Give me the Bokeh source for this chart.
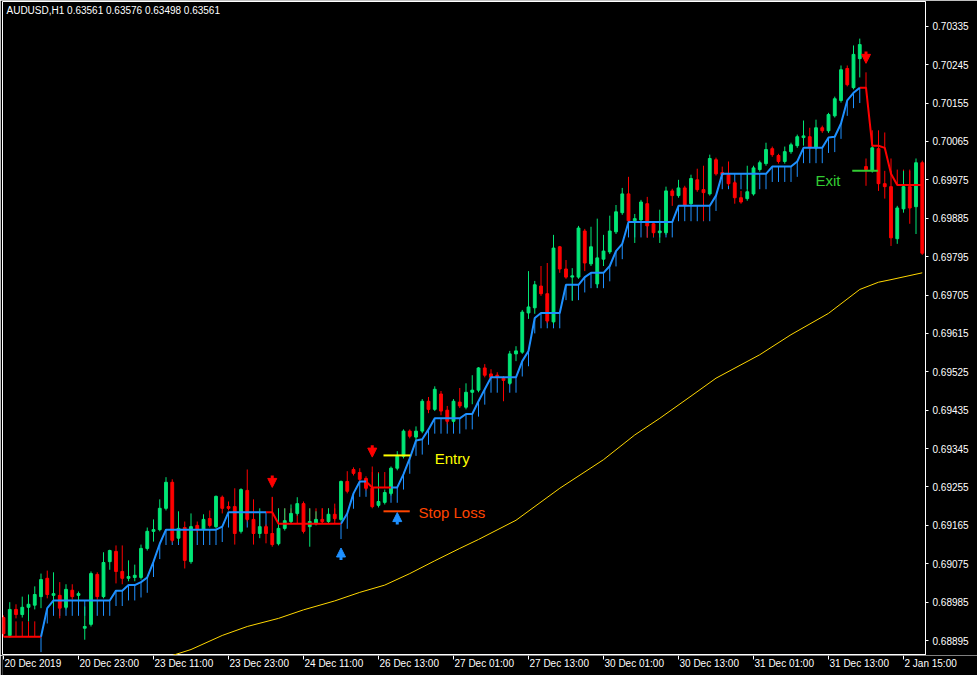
import numpy as np
from bokeh.plotting import figure
from bokeh.layouts import column
from bokeh.models import (ColumnDataSource, FixedTicker, Label, Arrow, NormalHead,
                          Range1d, CustomJSTickFormatter)
from bokeh.core.properties import value
from bokeh.embed import file_html
from bokeh.resources import INLINE

# ---------------- data ----------------
title_text = "AUDUSD,H1  0.63561 0.63576 0.63498 0.63561"

opens = [0.68949, 0.68907, 0.68968, 0.68956, 0.68973, 0.68978, 0.68998, 0.69041, 0.69001, 0.69001,
         0.68973, 0.69013, 0.69001, 0.68924, 0.68933, 0.69050, 0.68998, 0.69080, 0.69104, 0.69057,
         0.69041, 0.69043, 0.69043, 0.69111, 0.69151, 0.69155, 0.69205, 0.69266, 0.69135, 0.69160,
         0.69080, 0.69165, 0.69155, 0.69181, 0.69162, 0.69231, 0.69209, 0.69209, 0.69151, 0.69247,
         0.69179, 0.69146, 0.69162, 0.69146, 0.69122, 0.69158, 0.69174, 0.69193, 0.69216, 0.69162,
         0.69169, 0.69179, 0.69174, 0.69191, 0.69179, 0.69268, 0.69296, 0.69289, 0.69275, 0.69252,
         0.69212, 0.69219, 0.69240, 0.69299, 0.69327, 0.69386, 0.69372, 0.69386, 0.69456, 0.69437,
         0.69473, 0.69435, 0.69409, 0.69454, 0.69442, 0.69477, 0.69482, 0.69534, 0.69520, 0.69517,
         0.69510, 0.69498, 0.69567, 0.69571, 0.69663, 0.69675, 0.69726, 0.69708, 0.69642, 0.69818,
         0.69766, 0.69747, 0.69747, 0.69855, 0.69778, 0.69731, 0.69789, 0.69806, 0.69853, 0.69898,
         0.69942, 0.69879, 0.69881, 0.69919, 0.69872, 0.69851, 0.69851, 0.69949, 0.69938, 0.69956,
         0.69919, 0.69975, 0.69952, 0.69942, 0.70022, 0.69992, 0.69987, 0.69968, 0.69933, 0.69931,
         0.69942, 0.69999, 0.70013, 0.70048, 0.70032, 0.70018, 0.70041, 0.70055, 0.70074, 0.70076,
         0.70050, 0.70097, 0.70090, 0.70125, 0.70161, 0.70236, 0.70191, 0.70259, 0.70006, 0.69996,
         0.70048, 0.69966, 0.69959, 0.69837, 0.69907, 0.69959, 0.69912, 0.70015]
highs = [0.68954, 0.68985, 0.68980, 0.68998, 0.69003, 0.69022, 0.69052, 0.69059, 0.69055, 0.69032,
         0.69027, 0.69027, 0.69010, 0.68975, 0.69057, 0.69055, 0.69102, 0.69108, 0.69118, 0.69118,
         0.69083, 0.69073, 0.69120, 0.69160, 0.69179, 0.69226, 0.69278, 0.69273, 0.69198, 0.69174,
         0.69193, 0.69174, 0.69191, 0.69200, 0.69235, 0.69235, 0.69221, 0.69252, 0.69252, 0.69296,
         0.69226, 0.69205, 0.69167, 0.69231, 0.69205, 0.69205, 0.69214, 0.69231, 0.69221, 0.69205,
         0.69198, 0.69205, 0.69205, 0.69216, 0.69270, 0.69292, 0.69301, 0.69299, 0.69280, 0.69303,
         0.69287, 0.69249, 0.69303, 0.69339, 0.69390, 0.69390, 0.69397, 0.69461, 0.69466, 0.69491,
         0.69480, 0.69445, 0.69461, 0.69487, 0.69498, 0.69517, 0.69536, 0.69543, 0.69531, 0.69524,
         0.69515, 0.69574, 0.69585, 0.69670, 0.69761, 0.69738, 0.69773, 0.69780, 0.69846, 0.69820,
         0.69787, 0.69768, 0.69867, 0.69860, 0.69865, 0.69884, 0.69846, 0.69891, 0.69916, 0.69956,
         0.69982, 0.69895, 0.69928, 0.69935, 0.69876, 0.69905, 0.69959, 0.69954, 0.69975, 0.69961,
         0.69987, 0.70001, 0.70008, 0.70034, 0.70027, 0.70006, 0.70018, 0.69973, 0.69949, 0.70008,
         0.70008, 0.70020, 0.70062, 0.70053, 0.70036, 0.70053, 0.70062, 0.70081, 0.70114, 0.70097,
         0.70116, 0.70102, 0.70132, 0.70170, 0.70243, 0.70243, 0.70290, 0.70306, 0.70025, 0.70055,
         0.70083, 0.69996, 0.69996, 0.69914, 0.69996, 0.69996, 0.70025, 0.70020]
lows = [0.68907, 0.68902, 0.68947, 0.68949, 0.68940, 0.68968, 0.68971, 0.68994, 0.68975, 0.68947,
        0.68968, 0.68991, 0.68987, 0.68897, 0.68928, 0.68991, 0.68994, 0.69061, 0.69029, 0.69027,
        0.69034, 0.69034, 0.69038, 0.69106, 0.69127, 0.69151, 0.69200, 0.69125, 0.69127, 0.69064,
        0.69075, 0.69149, 0.69151, 0.69160, 0.69158, 0.69193, 0.69200, 0.69120, 0.69146, 0.69174,
        0.69120, 0.69135, 0.69123, 0.69115, 0.69118, 0.69153, 0.69169, 0.69188, 0.69146, 0.69115,
        0.69165, 0.69169, 0.69169, 0.69176, 0.69174, 0.69240, 0.69282, 0.69268, 0.69247, 0.69205,
        0.69207, 0.69214, 0.69235, 0.69294, 0.69322, 0.69369, 0.69362, 0.69381, 0.69428, 0.69433,
        0.69423, 0.69402, 0.69404, 0.69440, 0.69437, 0.69449, 0.69477, 0.69512, 0.69508, 0.69508,
        0.69456, 0.69494, 0.69550, 0.69567, 0.69649, 0.69661, 0.69703, 0.69639, 0.69637, 0.69757,
        0.69743, 0.69691, 0.69743, 0.69761, 0.69773, 0.69722, 0.69773, 0.69801, 0.69848, 0.69893,
        0.69874, 0.69827, 0.69876, 0.69839, 0.69841, 0.69827, 0.69846, 0.69914, 0.69933, 0.69912,
        0.69914, 0.69947, 0.69879, 0.69938, 0.69985, 0.69982, 0.69961, 0.69919, 0.69919, 0.69926,
        0.69938, 0.69994, 0.70008, 0.70029, 0.70013, 0.70013, 0.70036, 0.70050, 0.70055, 0.70046,
        0.70046, 0.70085, 0.70085, 0.70121, 0.70156, 0.70194, 0.70187, 0.70215, 0.69961, 0.69992,
        0.69949, 0.69931, 0.69820, 0.69825, 0.69898, 0.69872, 0.69848, 0.69799]
closes = [0.68911, 0.68968, 0.68956, 0.68973, 0.68980, 0.69003, 0.69038, 0.69003, 0.69005, 0.68971,
          0.69015, 0.68998, 0.69005, 0.68928, 0.69052, 0.68998, 0.69078, 0.69106, 0.69057, 0.69041,
          0.69045, 0.69048, 0.69111, 0.69151, 0.69155, 0.69205, 0.69266, 0.69130, 0.69158, 0.69083,
          0.69162, 0.69155, 0.69179, 0.69165, 0.69233, 0.69205, 0.69205, 0.69146, 0.69249, 0.69179,
          0.69146, 0.69162, 0.69146, 0.69120, 0.69158, 0.69176, 0.69193, 0.69216, 0.69151, 0.69174,
          0.69179, 0.69174, 0.69191, 0.69181, 0.69268, 0.69245, 0.69287, 0.69273, 0.69252, 0.69209,
          0.69221, 0.69242, 0.69299, 0.69327, 0.69386, 0.69374, 0.69386, 0.69456, 0.69437, 0.69484,
          0.69433, 0.69409, 0.69456, 0.69445, 0.69477, 0.69482, 0.69534, 0.69517, 0.69512, 0.69512,
          0.69505, 0.69567, 0.69574, 0.69665, 0.69677, 0.69729, 0.69708, 0.69644, 0.69815, 0.69766,
          0.69747, 0.69750, 0.69862, 0.69780, 0.69818, 0.69792, 0.69808, 0.69855, 0.69900, 0.69942,
          0.69879, 0.69884, 0.69923, 0.69867, 0.69851, 0.69855, 0.69949, 0.69938, 0.69956, 0.69916,
          0.69978, 0.69952, 0.69945, 0.70025, 0.69989, 0.69987, 0.69966, 0.69933, 0.69923, 0.69947,
          0.70003, 0.70015, 0.70046, 0.70034, 0.70018, 0.70041, 0.70057, 0.70076, 0.70078, 0.70050,
          0.70097, 0.70090, 0.70128, 0.70165, 0.70233, 0.70198, 0.70269, 0.70292, 0.69999, 0.70050,
          0.69966, 0.69959, 0.69839, 0.69909, 0.69959, 0.69909, 0.70015, 0.69803]

# trailing-stop indicator level per bar and its trend state (run lengths)
stop_level = [0.68904, 0.68904, 0.68904, 0.68904, 0.68904, 0.68904, 0.68904, 0.68971, 0.68989, 0.68989,
              0.68989, 0.68989, 0.68989, 0.68989, 0.68989, 0.68989, 0.68989, 0.68989, 0.69012, 0.69012,
              0.69025, 0.69025, 0.69032, 0.69043, 0.69080, 0.69122, 0.69155, 0.69155, 0.69155, 0.69155,
              0.69155, 0.69155, 0.69155, 0.69155, 0.69155, 0.69162, 0.69196, 0.69196, 0.69196, 0.69196,
              0.69196, 0.69196, 0.69196, 0.69196, 0.69169, 0.69169, 0.69169, 0.69169, 0.69169, 0.69169,
              0.69169, 0.69169, 0.69169, 0.69169, 0.69169, 0.69193, 0.69240, 0.69268, 0.69268, 0.69254,
              0.69254, 0.69254, 0.69254, 0.69254, 0.69285, 0.69322, 0.69364, 0.69367, 0.69390, 0.69416,
              0.69416, 0.69416, 0.69416, 0.69416, 0.69426, 0.69426, 0.69456, 0.69484, 0.69512, 0.69512,
              0.69512, 0.69512, 0.69512, 0.69550, 0.69574, 0.69651, 0.69663, 0.69663, 0.69663, 0.69663,
              0.69729, 0.69729, 0.69729, 0.69747, 0.69757, 0.69757, 0.69757, 0.69773, 0.69808, 0.69825,
              0.69876, 0.69876, 0.69876, 0.69876, 0.69876, 0.69876, 0.69876, 0.69876, 0.69914, 0.69914,
              0.69914, 0.69914, 0.69914, 0.69914, 0.69938, 0.69989, 0.69989, 0.69989, 0.69989, 0.69989,
              0.69989, 0.69989, 0.69989, 0.70006, 0.70006, 0.70006, 0.70006, 0.70018, 0.70050, 0.70050,
              0.70050, 0.70050, 0.70074, 0.70076, 0.70107, 0.70161, 0.70179, 0.70191, 0.70191, 0.70055,
              0.70055, 0.70050, 0.69989, 0.69963, 0.69963, 0.69963, 0.69963, 0.69963]
trend_runs = [("dn", 6), ("up", 37), ("dn", 11), ("up", 5), ("dn", 3), ("up", 76), ("dn", 10)]

# moving average (yellow)
ma_bars = [27, 30, 35, 39, 44, 48, 53, 57, 61, 65, 69, 73, 76, 82, 89, 96, 101, 105, 110, 114,
           121, 126, 132, 137, 140, 142, 147]
ma_values = [0.68860, 0.68874, 0.68907, 0.68928, 0.68947, 0.68967, 0.68988, 0.69008, 0.69025, 0.69052,
             0.69082, 0.69111, 0.69132, 0.69177, 0.69252, 0.69319, 0.69377, 0.69416, 0.69468, 0.69510,
             0.69565, 0.69612, 0.69662, 0.69718, 0.69735, 0.69741, 0.69757]

# time axis
time_tick_bars = [0, 12, 24, 36, 48, 60, 72, 84, 96, 108, 120, 132, 144]
time_tick_labels = ["20 Dec 2019", "20 Dec 23:00", "23 Dec 11:00", "23 Dec 23:00", "24 Dec 11:00",
                    "26 Dec 13:00", "27 Dec 01:00", "27 Dec 13:00", "30 Dec 01:00", "30 Dec 13:00",
                    "31 Dec 01:00", "31 Dec 13:00", "2 Jan 15:00"]
price_ticks = [0.68895, 0.68985, 0.69075, 0.69165, 0.69255, 0.69345, 0.69435, 0.69525, 0.69615,
               0.69705, 0.69795, 0.69885, 0.69975, 0.70065, 0.70155, 0.70245, 0.70335]

# signal arrows
sell_bars = [43, 59, 138]
sell_price = [0.69268, 0.69339, 0.70262]
buy_bars = [54, 63]
buy_price = [0.69098, 0.69181]

# trade levels and their labels
level_names = ["Entry", "Stop Loss", "Exit"]
level_start = [60.8, 60.8, 135.8]
level_end = [65.1, 65.0, 139.9]
level_price = [0.69329, 0.69198, 0.69996]
level_colors = ["#FFFF00", "#FF4500", "#33CC33"]
label_bar = [69.0, 66.4, 129.9]
label_price = [0.69322, 0.69196, 0.69973]

# ---------------- styling constants ----------------
BULL = "#00E676"
BEAR = "#FF0000"
UPC = "#1E90FF"
DNC = "#FF0000"
FONT = "Liberation Sans"
STEM = 0.00036
ARROW_LEN = 0.00028
X0, X1 = -0.16, 147.52
Y0, Y1 = 0.68860, 0.70393
FRAME_W = 977 - 2 - 52      # width of the price frame in pixels
STRIP_W = 977 - 2           # width of the time-scale strip frame in pixels

N = len(opens)
bars = list(range(N))
trend = []
for st, n in trend_runs:
    trend += [st] * n

colors = [BULL if c >= o else BEAR for o, c in zip(opens, closes)]
tops = [max(o, c) for o, c in zip(opens, closes)]
bots = [min(o, c) for o, c in zip(opens, closes)]
candles = ColumnDataSource(dict(bar=bars, high=highs, low=lows, top=tops, bottom=bots, color=colors))

up_line = np.array([s if trend[i] == "up" else np.nan for i, s in enumerate(stop_level)], dtype=float)
dn_line = np.array([s if (trend[i] == "dn" or (i > 0 and trend[i - 1] == "dn") or
                          (i < N - 1 and trend[i + 1] == "dn")) else np.nan
                    for i, s in enumerate(stop_level)], dtype=float)
stem_end = [s - STEM if trend[i] == "up" else s + STEM for i, s in enumerate(stop_level)]
stem_col = [UPC if t == "up" else DNC for t in trend]
stems = ColumnDataSource(dict(bar=bars, y0=stop_level, y1=stem_end, color=stem_col))

fig = figure(width=977, height=655, x_range=Range1d(X0, X1), y_range=Range1d(Y0, Y1),
             output_backend="svg", toolbar_location=None, y_axis_location="right", x_axis_location=None,
             background_fill_color="black", border_fill_color="black",
             outline_line_color="white", outline_line_width=1,
             min_border_left=2, min_border_top=1, min_border_right=52, min_border_bottom=0)
fig.frame_align = False
fig.grid.visible = False

ya = fig.yaxis[0]
ya.ticker = FixedTicker(ticks=price_ticks)
ya.formatter = CustomJSTickFormatter(code="return tick.toFixed(5);")
ya.axis_line_color = "white"
ya.major_tick_line_color = "white"
ya.minor_tick_line_color = None
ya.major_tick_in = 0
ya.major_tick_out = 3
ya.major_label_standoff = 4
ya.major_label_text_color = "white"
ya.major_label_text_font = FONT
ya.major_label_text_font_size = "10px"

# moving average
fig.line(ma_bars, ma_values, line_color="#FFD700", line_width=1)

# indicator histogram stems
fig.segment(x0="bar", y0="y0", x1="bar", y1="y1", line_color="color", line_width=1, source=stems)

# candles
fig.segment(x0="bar", y0="low", x1="bar", y1="high", line_color="color", line_width=1, source=candles)
fig.vbar(x="bar", width=0.45, top="top", bottom="bottom", fill_color="color", line_color="color",
         line_width=1, source=candles)

# indicator line
fig.line(bars, dn_line, line_color=DNC, line_width=2)
fig.line(bars, up_line, line_color=UPC, line_width=2)

# trade level lines + labels
fig.segment(x0=level_start, y0=level_price, x1=level_end, y1=level_price, line_color=level_colors,
            line_width=2)
fig.text(x=label_bar, y=label_price, text=level_names, text_color=level_colors,
         text_font=value(FONT), text_font_size="15px", text_baseline="middle", text_align="left")

# signal arrows
sell_src = ColumnDataSource(dict(x=sell_bars, ys=[v + ARROW_LEN / 2 for v in sell_price],
                                 ye=[v - ARROW_LEN / 2 for v in sell_price]))
buy_src = ColumnDataSource(dict(x=buy_bars, ys=[v - ARROW_LEN / 2 for v in buy_price],
                                ye=[v + ARROW_LEN / 2 for v in buy_price]))
fig.add_layout(Arrow(end=NormalHead(size=9, fill_color=BEAR, line_color=BEAR), x_start="x", y_start="ys",
                     x_end="x", y_end="ye", line_color=BEAR, line_width=3, source=sell_src))
fig.add_layout(Arrow(end=NormalHead(size=9, fill_color=UPC, line_color=UPC), x_start="x", y_start="ys",
                     x_end="x", y_end="ye", line_color=UPC, line_width=3, source=buy_src))

# chart title
fig.add_layout(Label(x=X0, y=Y1, x_offset=4, y_offset=-3, text=title_text,
                     text_color="white", text_font=FONT, text_font_size="10px",
                     text_baseline="top", text_align="left"))

# time scale strip: tick marks + left-aligned labels (MetaTrader style); same bar-to-pixel scale
# as the price frame, but extending under the price scale so the last label is not cut
strip_x1 = X0 + (X1 - X0) * STRIP_W / FRAME_W
strip = figure(width=977, height=20, x_range=Range1d(X0, strip_x1), y_range=Range1d(0, 20),
               output_backend="svg", toolbar_location=None,
               x_axis_location=None, y_axis_location=None,
               background_fill_color="black", border_fill_color="black", outline_line_color=None,
               min_border_left=2, min_border_top=0, min_border_right=0, min_border_bottom=0)
strip.frame_align = False
strip.grid.visible = False
strip.segment(x0=time_tick_bars, y0=[20] * len(time_tick_bars), x1=time_tick_bars,
              y1=[16] * len(time_tick_bars), line_color="white", line_width=1)
strip.text(x=time_tick_bars, y=[18] * len(time_tick_bars), text=time_tick_labels, x_offset=1,
           text_color="white", text_font=value(FONT), text_font_size="10px",
           text_align="left", text_baseline="top")

p = column(fig, strip, spacing=0)

open("out.html", "w").write(file_html(p, INLINE))
